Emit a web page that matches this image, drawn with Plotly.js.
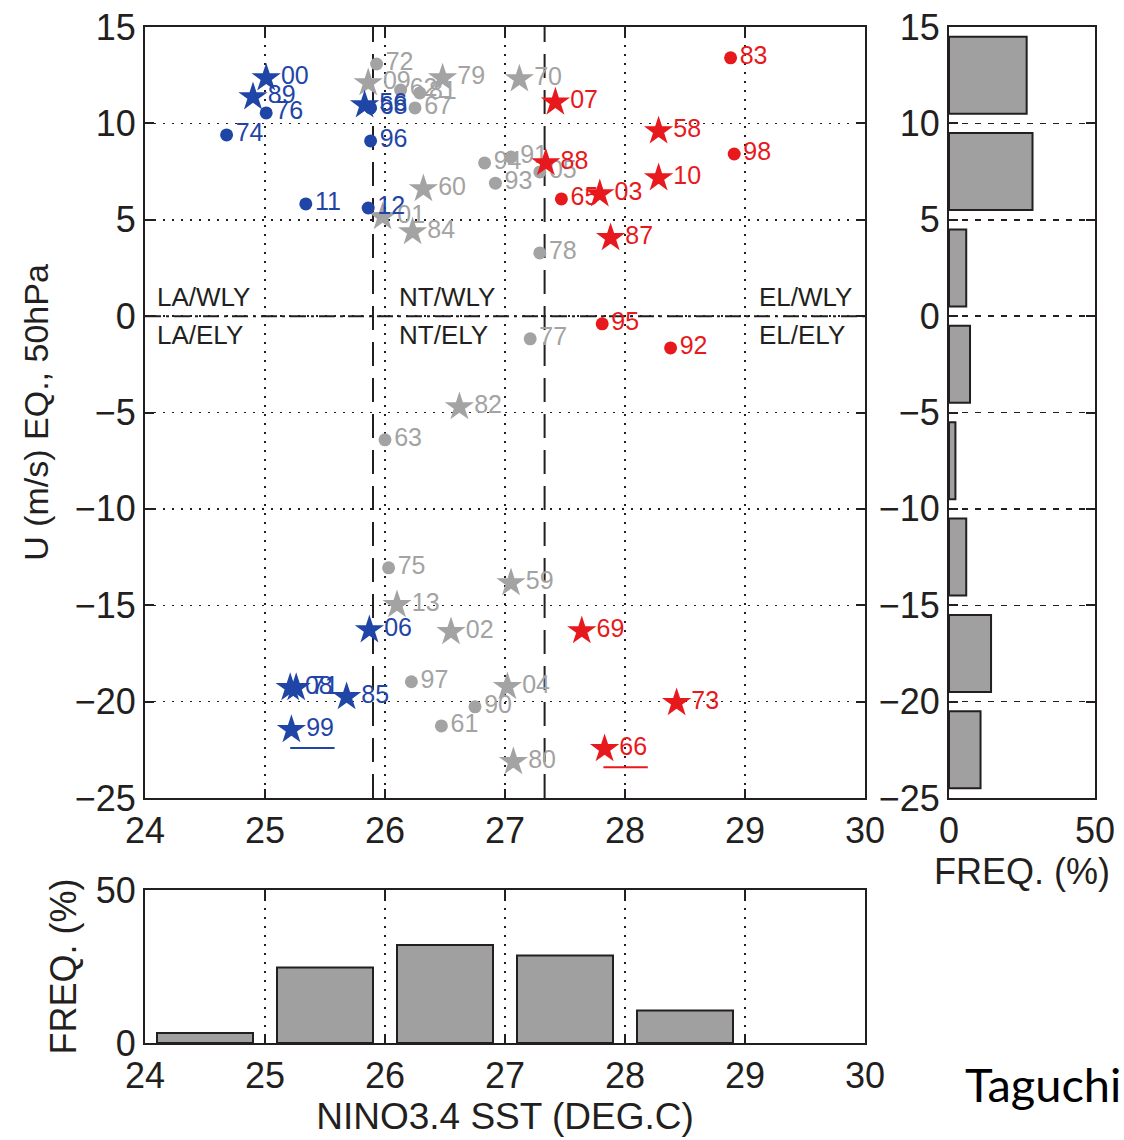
<!DOCTYPE html>
<html><head><meta charset="utf-8">
<script src="https://cdn.plot.ly/plotly-3.0.1.min.js"></script>
<style>html,body{margin:0;padding:0;background:#fff;} #chart{width:1124px;height:1140px;}</style>
</head><body><div id="chart"></div>
<script>
// ---------- DATA ----------
// La Niña-like years (blue)
const laYears = ["00","89","76","74","56","68","96","11","12","06","08","71","85","99"];
const laSST   = [25.01,24.90,25.01,24.68,25.83,25.88,25.88,25.34,25.86,25.87,25.21,25.26,25.68,25.22];
const laU     = [12.35,11.37,10.54,9.40,10.95,10.80,9.09,5.82,5.61,-16.28,-19.28,-19.28,-19.75,-21.46];
const laSym   = ["star","star","circle","circle","star","circle","circle","circle","circle","star","star","star","star","star"];

// Neutral years (gray)
const ntYears = ["72","09","62","81","67","79","70","91","94","93","05","60","01","84","78","77","82","63","75","59","13","02","97","04","90","61","80"];
const ntSST   = [25.93,25.86,26.13,26.29,26.25,26.48,27.12,27.05,26.83,26.92,27.29,26.32,25.98,26.23,27.29,27.21,26.62,26.00,26.03,27.05,26.10,26.55,26.22,27.02,26.75,26.47,27.07];
const ntU     = [13.08,12.10,11.73,11.58,10.80,12.35,12.30,8.25,7.95,6.90,7.48,6.60,5.15,4.37,3.28,-1.18,-4.71,-6.42,-13.06,-13.84,-14.98,-16.38,-18.97,-19.23,-20.27,-21.26,-23.12];
const ntSym   = ["circle","star","circle","circle","circle","star","star","circle","circle","circle","circle","star","star","star","circle","circle","star","circle","circle","star","star","star","circle","star","circle","circle","star"];

// El Niño-like years (red)
const elYears = ["83","07","58","98","88","10","65","03","87","95","92","69","73","66"];
const elSST   = [28.88,27.42,28.28,28.91,27.34,28.28,27.47,27.79,27.88,27.81,28.38,27.64,28.43,27.83];
const elU     = [13.40,11.10,9.60,8.41,7.95,7.17,6.08,6.34,4.06,-0.40,-1.65,-16.33,-20.06,-22.45];
const elSym   = ["circle","star","star","circle","star","star","circle","star","star","circle","circle","star","star","star"];

// underlined years
const underlinedYears = ["99","66"];

// phase boundaries of NINO3.4 SST (deg C)
const phaseBounds = [25.9, 27.33];

// region labels
const regionLabels = ["LA/WLY","LA/ELY","NT/WLY","NT/ELY","EL/WLY","EL/ELY"];
const regionX      = [24.08, 24.08, 26.1, 26.1, 29.1, 29.1];
const regionY      = [1.0, -1.0, 1.0, -1.0, 1.0, -1.0];

// histogram of NINO3.4 SST (1-degree bins)
const sstBinCenters = [24.5,25.5,26.5,27.5,28.5];
const sstFreq       = [3.3,24.7,32.0,28.6,10.6];

// histogram of 50hPa U (5 m/s bins)
const uBinCenters = [12.5,7.5,2.5,-2.5,-7.5,-12.5,-17.5,-22.5];
const uFreq       = [26.6,28.6,5.9,7.2,2.2,5.9,14.4,10.8];

const xTicks = [24,25,26,27,28,29,30];
const yTicks = [15,10,5,0,-5,-10,-15,-20,-25];

// ---------- STYLE ----------
const INK = "#231f20";
const BLUE = "#1f45a6", GRAY = "#a3a3a3", RED = "#e8191c";
const FONT = "Liberation Sans, Arial, Helvetica, sans-serif";
const symSize = {star: 22, circle: 13};

function group(years, sst, u, sym, color) {
  return {
    type: "scatter", mode: "markers+text", x: sst, y: u, text: years,
    textposition: "middle right",
    textfont: {family: FONT, size: 25, color: color},
    marker: {symbol: sym, size: sym.map(s => symSize[s]), color: color, opacity: 1, line: {width: 0}},
    xaxis: "x", yaxis: "y", hoverinfo: "skip", cliponaxis: false, showlegend: false
  };
}

const traces = [
  group(ntYears, ntSST, ntU, ntSym, GRAY),
  group(laYears, laSST, laU, laSym, BLUE),
  group(elYears, elSST, elU, elSym, RED),
  {
    type: "bar", orientation: "h", x: uFreq, y: uBinCenters, xaxis: "x2", yaxis: "y2",
    marker: {color: "#a0a0a0", line: {color: INK, width: 2}}, showlegend: false, hoverinfo: "skip"
  },
  {
    type: "bar", x: sstBinCenters, y: sstFreq, xaxis: "x3", yaxis: "y3",
    marker: {color: "#a0a0a0", line: {color: INK, width: 2}}, showlegend: false, hoverinfo: "skip"
  }
];

// shapes
const shapes = [];
phaseBounds.forEach(b => shapes.push({
  type: "line", xref: "x", yref: "y", x0: b, x1: b, y0: -25, y1: 15,
  line: {color: INK, width: 2, dash: "24px,12px"}, layer: "below"
}));
shapes.push({type: "line", xref: "x", yref: "y", x0: 24, x1: 30, y0: 0, y1: 0,
  line: {color: INK, width: 2, dash: "16px,5px,3px,5px"}, layer: "below"});
const allYears = laYears.concat(ntYears, elYears);
const allSST = laSST.concat(ntSST, elSST);
const allU = laU.concat(ntU, elU);
const allColor = laYears.map(() => BLUE).concat(ntYears.map(() => GRAY), elYears.map(() => RED));
underlinedYears.forEach(yr => {
  const i = allYears.indexOf(yr);
  shapes.push({type: "line", xref: "x", yref: "y",
    x0: allSST[i] - 0.01, x1: allSST[i] + 0.36, y0: allU[i] - 0.95, y1: allU[i] - 0.95,
    line: {color: allColor[i], width: 2}});
});

const annotations = regionLabels.map((t, i) => ({
  text: t, x: regionX[i], y: regionY[i], xref: "x", yref: "y",
  xanchor: "left", yanchor: "middle", showarrow: false,
  font: {family: FONT, size: 26, color: INK}
}));
annotations.push({
  text: "Taguchi", xref: "paper", yref: "paper", x: 963/1124, y: 1 - 1084/1140,
  xanchor: "left", yanchor: "middle", showarrow: false,
  font: {family: "Lato, Carlito, Noto Sans, sans-serif", size: 47, color: "#000"}
});

const axBase = {
  showline: true, linecolor: INK, linewidth: 2, mirror: "allticks",
  ticks: "inside", ticklen: 9, tickwidth: 2, tickcolor: INK,
  zeroline: false, automargin: false,
  tickfont: {family: FONT, size: 36, color: INK}
};

const mainX = [145/1124, 865/1124];
const mainY = [342/1140, 1113/1140];

const layout = {
  width: 1124, height: 1140,
  margin: {l: 0, r: 0, t: 0, b: 0},
  paper_bgcolor: "#fff", plot_bgcolor: "#fff",
  bargap: 0.2, showlegend: false,
  font: {family: FONT, color: INK},
  xaxis: Object.assign({}, axBase, {
    domain: mainX, range: [24, 30], tickvals: xTicks, anchor: "y",
    showgrid: true, gridcolor: INK, gridwidth: 1.5, griddash: "2px,7px"
  }),
  yaxis: Object.assign({}, axBase, {
    domain: mainY, range: [-25, 15], tickvals: yTicks, anchor: "x",
    showgrid: true, gridcolor: INK, gridwidth: 1.5, griddash: "2px,7px",
    title: {text: "U (m/s) EQ., 50hPa", font: {family: FONT, size: 34, color: INK}, standoff: 16}
  }),
  xaxis2: Object.assign({}, axBase, {
    domain: [949/1124, 1095/1124], range: [0, 50], tickvals: [0, 50], anchor: "y2",
    showgrid: false,
    title: {text: "FREQ. (%)", font: {family: FONT, size: 36, color: INK}, standoff: 4}
  }),
  yaxis2: Object.assign({}, axBase, {
    domain: mainY, range: [-25, 15], tickvals: yTicks, anchor: "x2",
    showgrid: true, gridcolor: INK, gridwidth: 1.5, griddash: "6px,7px"
  }),
  xaxis3: Object.assign({}, axBase, {
    domain: mainX, range: [24, 30], tickvals: xTicks, anchor: "y3",
    showgrid: true, gridcolor: INK, gridwidth: 1.5, griddash: "2px,7px",
    title: {text: "NINO3.4 SST (DEG.C)", font: {family: FONT, size: 37, color: INK}, standoff: 2}
  }),
  yaxis3: Object.assign({}, axBase, {
    domain: [97/1140, 250/1140], range: [0, 50], tickvals: [0, 50], anchor: "x3",
    showgrid: false,
    title: {text: "FREQ. (%)", font: {family: FONT, size: 36, color: INK}, standoff: 8}
  }),
  shapes: shapes,
  annotations: annotations
};

Plotly.newPlot("chart", traces, layout, {staticPlot: true, displayModeBar: false});
</script>
</body></html>
